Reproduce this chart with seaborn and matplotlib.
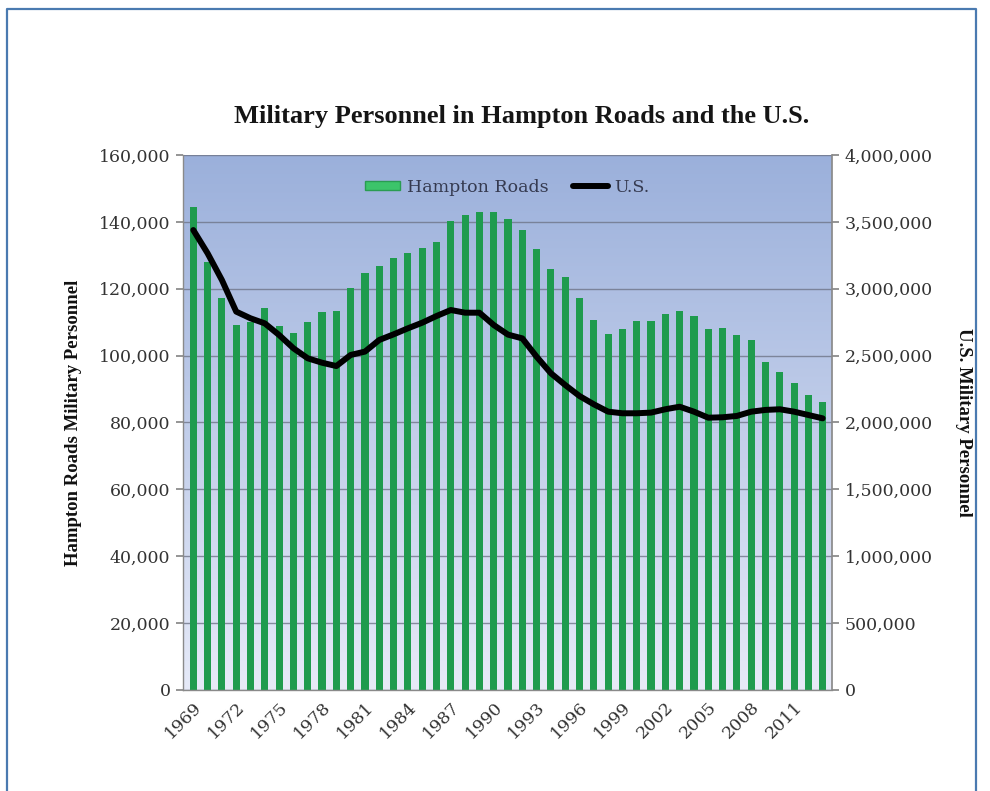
import numpy as np
import pandas as pd
import matplotlib
matplotlib.use("Agg")
import matplotlib.pyplot as plt
import matplotlib.lines as mlines
import matplotlib.patches as mpatches
from matplotlib.ticker import FuncFormatter, MultipleLocator
import seaborn as sns

years = list(range(1969, 2014))
hampton = [144500, 128000, 117100, 109100, 110100, 114100, 108800, 106700, 110100,
           113100, 113300, 120300, 124800, 126800, 129100, 130600, 132100, 134100,
           140200, 142000, 143000, 143000, 141000, 137700, 131800, 125800, 123600,
           117100, 110600, 106500, 108100, 110400, 110400, 112400, 113400, 111800,
           108100, 108400, 106200, 104700, 98200, 95200, 91900, 88200, 86200]
us = [3439000, 3265000, 3065000, 2829000, 2779000, 2741000, 2654000, 2555000, 2480000,
      2447000, 2422000, 2505000, 2530000, 2617000, 2659000, 2704000, 2746000, 2796000,
      2841000, 2821000, 2821000, 2729000, 2657000, 2629000, 2492000, 2368000, 2280000,
      2198000, 2136000, 2081000, 2069000, 2069000, 2074000, 2099000, 2118000, 2081000,
      2036000, 2039000, 2049000, 2081000, 2094000, 2099000, 2081000, 2056000, 2031000]
tick_years = years[::3]

title = "Military Personnel in Hampton Roads and the U.S."
left_label = "Hampton Roads Military Personnel"
right_label = "U.S. Military Personnel"
series_names = ["Hampton Roads", "U.S."]

df = pd.DataFrame({"year": [str(y) for y in years], "hampton": hampton, "us": us})
df["pos"] = np.arange(len(df))

sns.set_theme(style="white")
plt.rcParams["font.family"] = ["DejaVu Serif"]

W, H = 990, 791
fig = plt.figure(figsize=(W / 100, H / 100), dpi=100)
L, R, T, B = 183, 832, 155, 690
ax = fig.add_axes([L / W, 1 - B / H, (R - L) / W, (B - T) / H])

# gradient background
grad = np.linspace(0, 1, 256).reshape(-1, 1)
top_c = np.array([0x9b, 0xb0, 0xdb]) / 255
bot_c = np.array([0xe6, 0xea, 0xf8]) / 255
img = top_c[None, None, :] * (1 - grad[:, :, None]) + bot_c[None, None, :] * grad[:, :, None]
ax.imshow(img, extent=(0, 1, 0, 1), transform=ax.transAxes, aspect="auto", zorder=-10)

green = "#1f9b4e"
sns.barplot(data=df, x="year", y="hampton", color=green, width=0.5, saturation=1,
            linewidth=0, edgecolor="none", ax=ax, zorder=2)
ax.set_xlim(-0.72, len(years) - 1 + 0.65)
ax.set_ylim(0, 160000)
ax.yaxis.set_major_locator(MultipleLocator(20000))
ax.yaxis.set_major_formatter(FuncFormatter(lambda v, p: f"{int(v):,}"))
ax.set_axisbelow(True)
ax.grid(axis="y", color="#6f7588", linewidth=1.0, alpha=0.8)
ax.grid(axis="x", visible=False)
ax.set_xticks(range(0, len(years), 3))
ax.set_xticklabels([str(y) for y in tick_years], rotation=45, ha="right",
                   rotation_mode="anchor")
ax.set_xlabel("")
ax.set_ylabel(left_label, fontsize=13.5, fontweight="bold", family="Liberation Serif",
              color="#111111", labelpad=12)
ax.tick_params(axis="y", which="major", length=5, color="#888888", labelsize=12.5,
               labelcolor="#333333", direction="out", left=True, pad=4)
ax.tick_params(axis="x", which="major", length=0, labelsize=12.5,
               labelcolor="#333333", pad=6)
for s in ["left", "bottom"]:
    ax.spines[s].set_color("#8a8a8a")
    ax.spines[s].set_linewidth(1.0)
ax.spines["top"].set_visible(False)
ax.spines["right"].set_visible(False)

ax2 = ax.twinx()
sns.lineplot(data=df, x="pos", y="us", color="black", linewidth=4.3, ax=ax2,
             solid_joinstyle="round", solid_capstyle="round")
ax2.set_ylim(0, 4000000)
ax2.set_xlim(ax.get_xlim())
ax2.yaxis.set_major_locator(MultipleLocator(500000))
ax2.yaxis.set_major_formatter(FuncFormatter(lambda v, p: f"{int(v):,}"))
ax2.set_ylabel(right_label, fontsize=13.5, fontweight="bold", family="Liberation Serif",
               color="#111111", rotation=-90, labelpad=28)
ax2.tick_params(axis="y", which="major", length=5, color="#888888", labelsize=12.5,
                labelcolor="#333333", direction="out", right=True, pad=4)
ax2.grid(False)
for s in ["top", "left", "bottom"]:
    ax2.spines[s].set_visible(False)
ax2.spines["right"].set_color("#8a8a8a")
ax2.set_xlabel("")

# legend
h1 = mpatches.Patch(facecolor="#3cc46a", edgecolor="#2a9c52", label=series_names[0])
h2 = mlines.Line2D([], [], color="black", linewidth=4.3, solid_capstyle="round",
                   label=series_names[1])
leg = ax2.legend(handles=[h1, h2], loc="upper center", bbox_to_anchor=(0.5, 0.985),
                 ncol=2, frameon=False, fontsize=12.5, handlelength=2.0,
                 handleheight=0.5, handletextpad=0.4, columnspacing=1.4)
for t in leg.get_texts():
    t.set_color("#353a50")

fig.text(522 / W, 1 - 117 / H, title, ha="center", va="center", fontsize=19,
         fontweight="bold", family="Liberation Serif", color="#151515")

# outer frame
fx = [7 / W, 7 / W, 976 / W, 976 / W]
fy = [0, 1 - 9 / H, 1 - 9 / H, 0]
fig.add_artist(mlines.Line2D(fx, fy, color="#4a7ab0", linewidth=1.6,
                             transform=fig.transFigure))

fig.savefig("out.png", dpi=100, facecolor="white")
